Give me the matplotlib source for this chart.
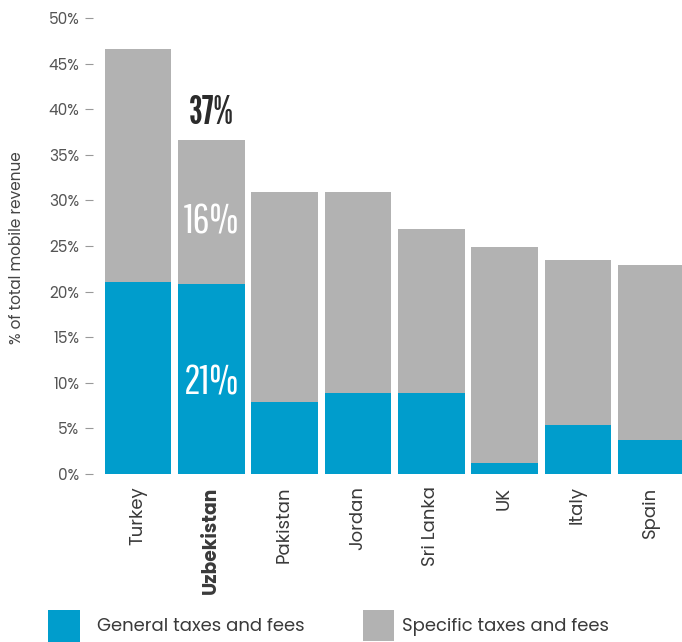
import matplotlib
matplotlib.use("Agg")
import matplotlib.pyplot as plt
from matplotlib.patches import Rectangle

# values (% of total mobile revenue)
countries = ["Turkey", "Uzbekistan", "Pakistan", "Jordan", "Sri Lanka", "UK", "Italy", "Spain"]
general = [21.1, 20.8, 7.9, 8.9, 8.9, 1.2, 5.4, 3.7]
total = [46.6, 36.6, 30.9, 30.9, 26.9, 24.9, 23.5, 22.9]
specific = [t - g for t, g in zip(total, general)]
highlight = "Uzbekistan"
yticks = [0, 5, 10, 15, 20, 25, 30, 35, 40, 45, 50]

blue = "#009DCC"
grey = "#B2B2B2"
text_col = "#3A3A3A"
bold_cond = ["League Gothic", "Bebas Neue", "DejaVu Sans"]
light_cond = ["Pathway Gothic One", "DejaVu Sans"]

plt.rcParams["font.family"] = ["Poppins", "Open Sans", "DejaVu Sans"]

W, H = 682, 642
fig = plt.figure(figsize=(W / 100, H / 100), dpi=100)
ax = fig.add_axes([93 / W, (H - 474) / H, (W - 93) / W, (474 - 18) / H])

x = list(range(len(countries)))
ax.bar(x, general, width=0.91, color=blue, linewidth=0)
ax.bar(x, specific, bottom=general, width=0.91, color=grey, linewidth=0)

ax.set_xlim(-0.614, 7.42)
ax.set_ylim(0, 50)
ax.set_yticks(yticks)
ax.set_yticklabels([f"{v}%" for v in yticks], fontsize=11, color="#555555")
ax.tick_params(axis="y", length=6, width=0.8, color="#999999", pad=4)
ax.set_xticks(x)
ax.set_xticklabels(countries, rotation=90, fontsize=13, color=text_col, va="top")
ax.tick_params(axis="x", length=0, pad=9)
for lbl in ax.get_xticklabels():
    if lbl.get_text() == highlight:
        lbl.set_fontweight("bold")
        lbl.set_fontsize(13.5)
for s in ax.spines.values():
    s.set_visible(False)

fig.text(17 / W, 1 - 248 / H, "% of total mobile revenue", rotation=90,
         ha="center", va="center", fontsize=11, color="#444444")

# annotations on the highlighted bar
i = countries.index(highlight)
ax.text(i, total[i] + 1.0, f"{round(total[i])}%", ha="center", va="bottom",
        fontsize=28, color="#2B2B2B", family=bold_cond)
ax.text(i, general[i] + specific[i] / 2 - 1.0, f"{round(specific[i])}%", ha="center", va="center",
        fontsize=30, color="white", family=light_cond)
ax.text(i, general[i] / 2 - 0.4, f"{round(general[i])}%", ha="center", va="center",
        fontsize=30, color="white", family=light_cond)

# legend
fig.add_artist(Rectangle((48 / W, 0), 32 / W, 32 / H, transform=fig.transFigure,
                         color=blue, lw=0))
fig.text(97 / W, 1 - 627 / H, "General taxes and fees", ha="left", va="center",
         fontsize=13, color=text_col)
fig.add_artist(Rectangle((363 / W, 1 / H), 31 / W, 31 / H, transform=fig.transFigure,
                         color=grey, lw=0))
fig.text(402 / W, 1 - 627 / H, "Specific taxes and fees", ha="left", va="center",
         fontsize=13, color=text_col)

fig.savefig("out.png", dpi=100)
